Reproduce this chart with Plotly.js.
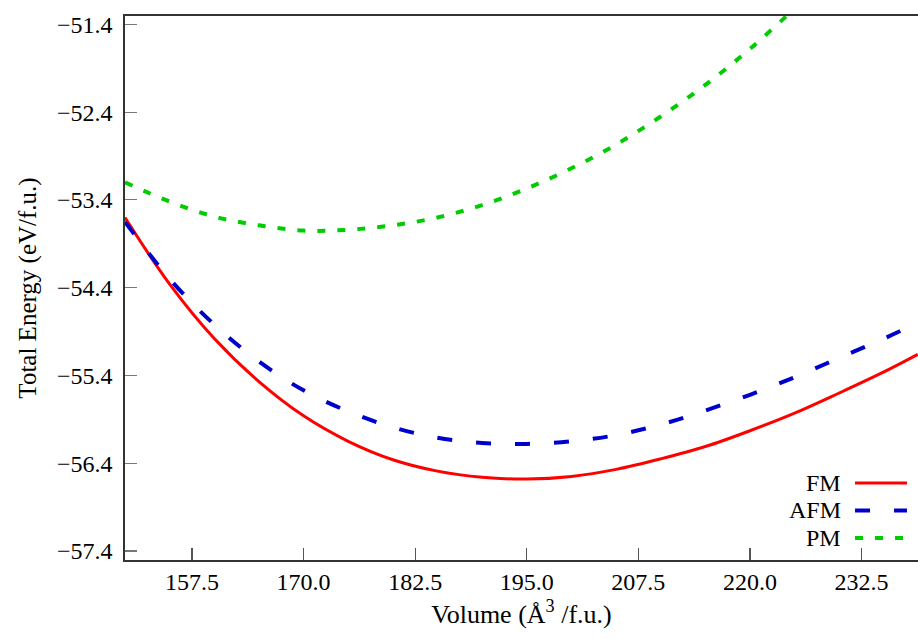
<!DOCTYPE html>
<html>
<head>
<meta charset="utf-8">
<script src="https://cdn.plot.ly/plotly-3.0.1.min.js"></script>
<style>
  html, body { margin: 0; padding: 0; background: #ffffff; }
  #chart { width: 918px; height: 639px; }
</style>
</head>
<body>
<div id="chart"></div>
<script>
// ---- data ----
const volume    = [150, 155, 160, 165, 170, 175, 180, 185, 190, 195, 200, 205, 210, 215, 220, 225, 230, 235, 238.8];
const energyFM  = [-53.60, -54.36, -54.98, -55.47, -55.86, -56.15, -56.36, -56.49, -56.56, -56.58, -56.55, -56.47, -56.35, -56.21, -56.03, -55.83, -55.60, -55.36, -55.16];
const energyAFM = [-53.65, -54.30, -54.82, -55.24, -55.57, -55.81, -55.99, -56.11, -56.17, -56.18, -56.15, -56.08, -55.96, -55.80, -55.62, -55.42, -55.20, -54.98, -54.80];
const energyPM  = [-53.20, -53.42, -53.59, -53.69, -53.75, -53.74, -53.69, -53.60, -53.46, -53.27, -53.04, -52.77, -52.45, -52.09, -51.68, -51.22, null, null, null];
const seriesNames = ['FM', 'AFM', 'PM'];
const xTickVals = [157.5, 170.0, 182.5, 195.0, 207.5, 220.0, 232.5];
const yTickVals = [-57.4, -56.4, -55.4, -54.4, -53.4, -52.4, -51.4];

// ---- styles ----
const colors = ['#ff0000', '#0000cc', '#00cc00'];
const dashes = ['solid', '15px,24px', '8px,12px'];
const widths = [3, 4, 4];
const series = [energyFM, energyAFM, energyPM];
const FONT = '"Liberation Serif", "Times New Roman", serif';

const traces = series.map((ys, i) => ({
  type: 'scatter',
  mode: 'lines',
  x: volume,
  y: ys,
  name: seriesNames[i],
  showlegend: false,
  line: { color: colors[i], width: widths[i], dash: dashes[i], shape: 'spline', smoothing: 1 },
  connectgaps: false,
  hoverinfo: 'skip'
}));

// manual legend (text on the left, line sample on the right)
const legendY = [0.1415, 0.0910, 0.0404];
const annotations = seriesNames.map((n, i) => ({
  xref: 'paper', yref: 'paper', x: 0.9054, y: legendY[i],
  xanchor: 'right', yanchor: 'middle', text: n, showarrow: false,
  font: { family: FONT, size: 24, color: '#000' }
}));
const shapes = seriesNames.map((n, i) => ({
  type: 'line', xref: 'paper', yref: 'paper',
  x0: 0.9206, x1: 0.9861, y0: legendY[i], y1: legendY[i],
  line: { color: colors[i], width: widths[i], dash: dashes[i] }
}));

const layout = {
  width: 918, height: 639,
  margin: { l: 125, r: 0, t: 16, b: 79 },
  paper_bgcolor: '#ffffff', plot_bgcolor: '#ffffff',
  font: { family: FONT, size: 24, color: '#000' },
  xaxis: {
    range: [150, 238.82],
    tickvals: xTickVals, tickformat: '.1f',
    ticks: 'inside', ticklen: 12, tickwidth: 1.2, tickcolor: '#555',
    showline: true, linecolor: '#333', linewidth: 1.6, mirror: true,
    showgrid: false, zeroline: false,
    tickfont: { family: FONT, size: 24, color: '#000' },
    title: { text: 'Volume (Å<sup>3</sup> /f.u.)', font: { family: FONT, size: 26, color: '#000' }, standoff: 10 }
  },
  yaxis: {
    range: [-57.5025, -51.305],
    tickvals: yTickVals, tickformat: '.1f',
    ticks: 'inside', ticklen: 12, tickwidth: 1.2, tickcolor: '#777',
    ticklabelstandoff: 6,
    showline: true, linecolor: '#333', linewidth: 1.6, mirror: false,
    showgrid: false, zeroline: false,
    tickfont: { family: FONT, size: 24, color: '#000' },
    title: { text: 'Total Energy (eV/f.u.)', font: { family: FONT, size: 25, color: '#000' }, standoff: 13 }
  },
  annotations: annotations,
  shapes: shapes,
  showlegend: false
};

Plotly.newPlot('chart', traces, layout, { displayModeBar: false, staticPlot: true });
</script>
</body>
</html>
